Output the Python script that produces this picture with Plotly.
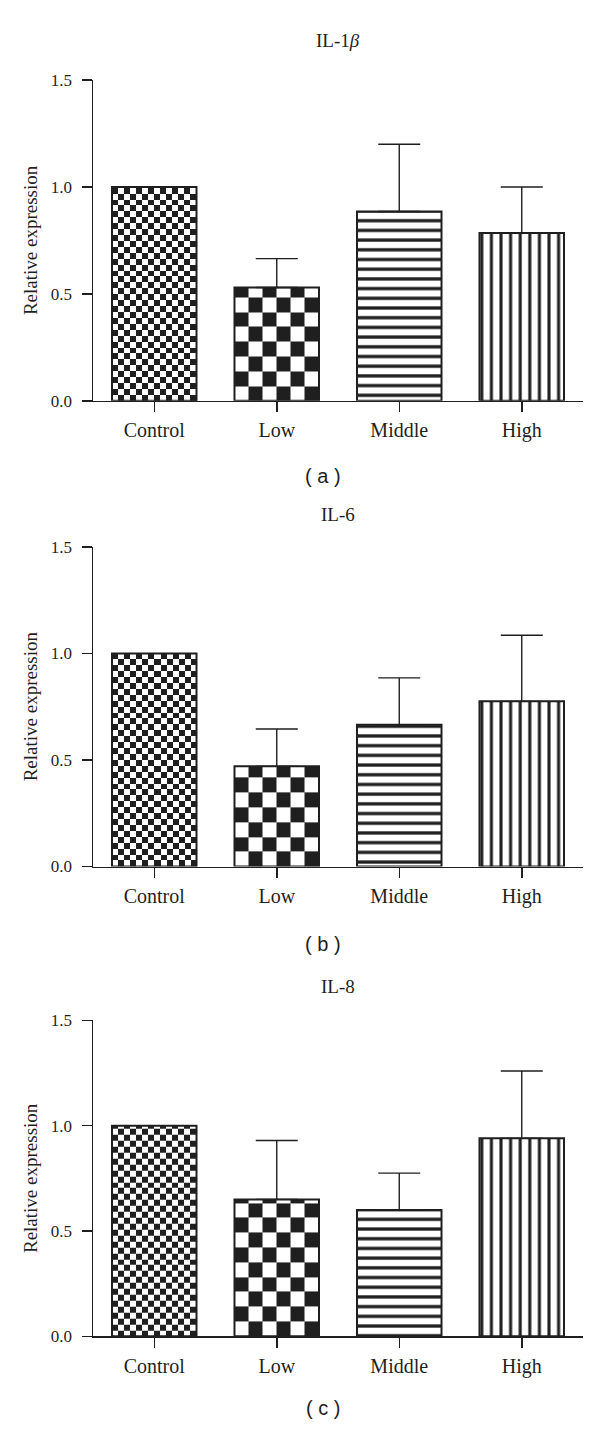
import numpy as np
import plotly.graph_objects as go

# ---------------- data ----------------
categories = ["Control", "Low", "Middle", "High"]
panel_titles = ["IL-1<i>β</i>", "IL-6", "IL-8"]
panel_letters = ["( a )", "( b )", "( c )"]

il1b_mean = [1.0, 0.53, 0.885, 0.785]
il1b_err = [0.0, 0.135, 0.315, 0.215]

il6_mean = [1.0, 0.47, 0.665, 0.775]
il6_err = [0.0, 0.175, 0.22, 0.31]

il8_mean = [1.0, 0.65, 0.60, 0.94]
il8_err = [0.0, 0.28, 0.175, 0.32]

y_tickvals = [0, 0.5, 1.0, 1.5]
y_ticktext = ["0.0", "0.5", "1.0", "1.5"]

means = [il1b_mean, il6_mean, il8_mean]
errs = [il1b_err, il6_err, il8_err]

# ---------------- layout geometry (pixels) ----------------
W, H = 600, 1440
x_left, x_right = 93, 583
panels_px = [(72, 397), (545, 869), (1025, 1345)]  # (top, bottom) of y range 0..1.5
title_y = [32, 512, 991]
letter_y = [473, 947, 1418]

BAR_W = 0.69
INK = "#1f1f1f"
serif = "Liberation Serif"

# checkerboard cell sizes (px) for Control (fine) and Low (coarse)
checker_px = {0: 6.0, 1: 15.0}
# stripe patterns
stripe_pattern = {
    2: dict(shape="-", size=9.7, solidity=0.34, fgcolor=INK, bgcolor="white", fillmode="replace"),
    3: dict(shape="|", size=9.6, solidity=0.32, fgcolor=INK, bgcolor="white", fillmode="replace"),
}

fig = go.Figure()

for p in range(3):
    top, bot = panels_px[p]
    sfx = "" if p == 0 else str(p + 1)
    xa, ya = "x" + sfx, "y" + sfx
    px_per_y = (bot - top) / 1.5
    px_per_x = (x_right - x_left) / 4.0
    vals = means[p]

    # checkerboard fills (heatmap textures inside the checkered bars)
    for i in (0, 1):
        cell = checker_px[i]
        v = vals[i]
        ncol = max(1, int(round(BAR_W * px_per_x / cell)))
        xe = np.linspace(i - BAR_W / 2, i + BAR_W / 2, ncol + 1)
        dy = cell / px_per_y
        ye = list(np.arange(0, v, dy))
        if v - ye[-1] < dy * 0.15 and len(ye) > 1:
            ye = ye[:-1]
        ye.append(v)
        ye = np.array(ye)
        nrow = len(ye) - 1
        z = np.fromfunction(lambda r, c: (r + c) % 2, (nrow, ncol))
        fig.add_trace(go.Heatmap(
            x=xe, y=ye, z=z, xaxis=xa, yaxis=ya,
            colorscale=[[0, "white"], [1, INK]], zmin=0, zmax=1,
            showscale=False, hoverinfo="skip", xgap=0, ygap=0,
        ))

    colors = ["rgba(0,0,0,0)", "rgba(0,0,0,0)", "white", "white"]
    patterns = [dict(shape=""), dict(shape=""), stripe_pattern[2], stripe_pattern[3]]
    for i in range(4):
        fig.add_trace(go.Bar(
            x=[i], y=[vals[i]], width=BAR_W, xaxis=xa, yaxis=ya,
            marker=dict(color=colors[i], line=dict(color=INK, width=2), pattern=patterns[i]),
            error_y=dict(type="data", symmetric=False, array=[errs[p][i]], arrayminus=[0],
                         visible=errs[p][i] > 0, color=INK, thickness=1.4, width=21),
            showlegend=False, hoverinfo="skip",
        ))

    dom_y = [1 - bot / H, 1 - top / H]
    axis_common = dict(showline=True, linecolor=INK, linewidth=1.5, ticks="outside",
                       ticklen=10, tickwidth=1.5, tickcolor=INK, showgrid=False, zeroline=False)
    fig.layout["xaxis" + sfx] = dict(
        axis_common, domain=[x_left / W, x_right / W], range=[-0.5, 3.5],
        tickvals=[0, 1, 2, 3], ticktext=categories, anchor=ya, ticklabelstandoff=1,
        tickfont=dict(family=serif, size=20, color=INK),
    )
    fig.layout["yaxis" + sfx] = dict(
        axis_common, domain=dom_y, range=[0, 1.5], tickvals=y_tickvals, ticktext=y_ticktext,
        anchor=xa, ticklabelstandoff=6, tickfont=dict(family=serif, size=17, color=INK),
        title=dict(text="Relative expression", font=dict(family=serif, size=19, color=INK), standoff=8),
    )

    fig.add_annotation(text=panel_titles[p], xref="paper", yref="paper",
                       x=(x_left + x_right) / 2 / W, y=1 - title_y[p] / H, showarrow=False,
                       font=dict(family=serif, size=19, color=INK), xanchor="center", yanchor="middle")
    fig.add_annotation(text=panel_letters[p], xref="paper", yref="paper",
                       x=323 / W, y=1 - letter_y[p] / H, showarrow=False,
                       font=dict(family="Liberation Sans", size=20, color=INK), xanchor="center", yanchor="middle")

fig.update_layout(
    width=W, height=H, margin=dict(l=0, r=0, t=0, b=0),
    paper_bgcolor="white", plot_bgcolor="white", barmode="overlay", showlegend=False,
)

post = (
    "document.body.style.margin='0px';"
    "document.documentElement.style.overflow='hidden';"
    "document.body.style.overflow='hidden';"
    "var gd=document.getElementById('{plot_id}');"
    "gd.style.position='fixed';gd.style.top='0px';gd.style.left='0px';"
)
fig.write_html("out.html", config={"displayModeBar": False, "staticPlot": True}, post_script=post)
